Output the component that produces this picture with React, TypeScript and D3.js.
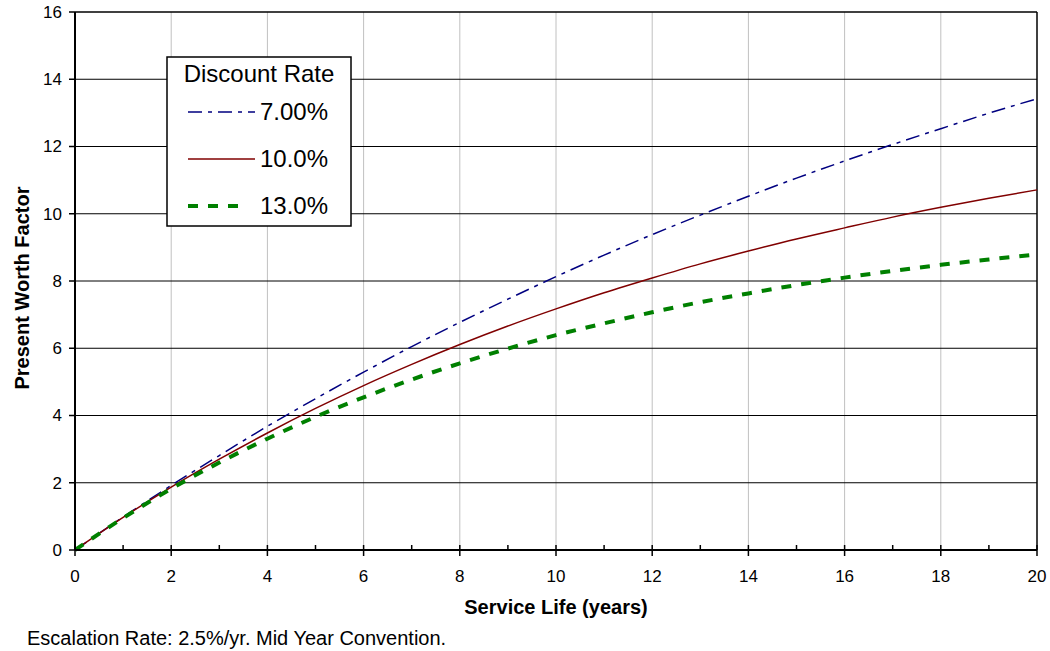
import React from "react";
import * as d3 from "d3";

const years = [0, 1, 2, 3, 4, 5, 6, 7, 8, 9, 10, 11, 12, 13, 14, 15, 16, 17, 18, 19, 20];
const pwf7 = [0, 0.98, 1.92, 2.81, 3.68, 4.5, 5.29, 6.05, 6.77, 7.46, 8.13, 8.77, 9.38, 9.96, 10.52, 11.06, 11.57, 12.06, 12.53, 12.99, 13.42];
const pwf10 = [0, 0.97, 1.87, 2.7, 3.48, 4.21, 4.89, 5.52, 6.11, 6.66, 7.17, 7.65, 8.09, 8.51, 8.89, 9.25, 9.58, 9.9, 10.19, 10.46, 10.71];
const pwf13 = [0, 0.95, 1.82, 2.6, 3.31, 3.96, 4.54, 5.07, 5.55, 5.99, 6.39, 6.74, 7.07, 7.37, 7.63, 7.88, 8.1, 8.3, 8.48, 8.64, 8.79];
const seriesNames = ["7.00%", "10.0%", "13.0%"];
const xTicks = [0, 2, 4, 6, 8, 10, 12, 14, 16, 18, 20];
const xMinorTicks = [1, 3, 5, 7, 9, 11, 13, 15, 17, 19];
const yTicks = [0, 2, 4, 6, 8, 10, 12, 14, 16];

const W = 1050;
const H = 651;
const L = 75, R = 1037, T = 12, B = 550;
const FONT = "'Liberation Sans', Arial, sans-serif";

const styles = [
  { color: "#000080", width: 1.5, dash: "14,6,4,6" },
  { color: "#800000", width: 1.5, dash: "" },
  { color: "#008000", width: 4, dash: "10,10" },
];

export default function App() {
  const x = d3.scaleLinear().domain([0, 20]).range([L, R]);
  const y = d3.scaleLinear().domain([0, 16]).range([B, T]);
  const all = [pwf7, pwf10, pwf13];
  const line = d3
    .line<number>()
    .x((_, i) => x(years[i]))
    .y((d) => y(d))
    .curve(d3.curveMonotoneX);

  return (
    <svg width={W} height={H} style={{ position: "absolute", left: 0, top: 0, background: "#fff" }} fontFamily={FONT}>
      <rect x={0} y={0} width={W} height={H} fill="#fff" />
      {xTicks.slice(1, -1).map((t) => (
        <line key={"vg" + t} x1={x(t)} x2={x(t)} y1={T} y2={B} stroke="#c0c0c0" strokeWidth={1} />
      ))}
      {yTicks.slice(1, -1).map((t) => (
        <line key={"hg" + t} x1={L} x2={R} y1={y(t)} y2={y(t)} stroke="#000" strokeWidth={1} />
      ))}
      <line x1={L} x2={R} y1={T} y2={T} stroke="#000" strokeWidth={1.5} />
      <line x1={R} x2={R} y1={T} y2={B} stroke="#000" strokeWidth={1.5} />
      {all.map((s, i) => (
        <path
          key={"s" + i}
          d={line(s) || ""}
          fill="none"
          stroke={styles[i].color}
          strokeWidth={styles[i].width}
          strokeDasharray={styles[i].dash}
        />
      ))}
      <line x1={L} x2={L} y1={T} y2={B} stroke="#000" strokeWidth={2} />
      <line x1={L} x2={R} y1={B} y2={B} stroke="#000" strokeWidth={2} />
      {yTicks.map((t) => (
        <g key={"yt" + t}>
          <line x1={L - 6} x2={L} y1={y(t)} y2={y(t)} stroke="#000" strokeWidth={1.5} />
          <text x={L - 13} y={y(t)} dy="0.35em" textAnchor="end" fontSize={17}>
            {t}
          </text>
        </g>
      ))}
      {xTicks.map((t) => (
        <g key={"xt" + t}>
          <line x1={x(t)} x2={x(t)} y1={B - 5} y2={B + 6} stroke="#000" strokeWidth={1.5} />
          <text x={x(t)} y={B + 32} textAnchor="middle" fontSize={17}>
            {t}
          </text>
        </g>
      ))}
      {xMinorTicks.map((t) => (
        <line key={"xm" + t} x1={x(t)} x2={x(t)} y1={B - 5} y2={B} stroke="#000" strokeWidth={1.5} />
      ))}
      <text x={(L + R) / 2} y={614} textAnchor="middle" fontSize={20} fontWeight="bold">
        Service Life (years)
      </text>
      <text
        transform={`translate(29,288) rotate(-90)`}
        textAnchor="middle"
        fontSize={20}
        fontWeight="bold"
      >
        Present Worth Factor
      </text>
      <text x={27} y={645} fontSize={20}>
        Escalation Rate: 2.5%/yr. Mid Year Convention.
      </text>
      <g>
        <rect x={167} y={57} width={184} height={169} fill="#fff" stroke="#000" strokeWidth={1.5} />
        <text x={259} y={82} textAnchor="middle" fontSize={24}>
          Discount Rate
        </text>
        {seriesNames.map((n, i) => (
          <g key={"lg" + i}>
            <line
              x1={188}
              x2={i === 2 ? 245 : 255}
              y1={112 + i * 47}
              y2={112 + i * 47}
              stroke={styles[i].color}
              strokeWidth={styles[i].width}
              strokeDasharray={styles[i].dash}
            />
            <text x={260} y={112 + i * 47} dy="0.35em" fontSize={24}>
              {n}
            </text>
          </g>
        ))}
      </g>
    </svg>
  );
}
